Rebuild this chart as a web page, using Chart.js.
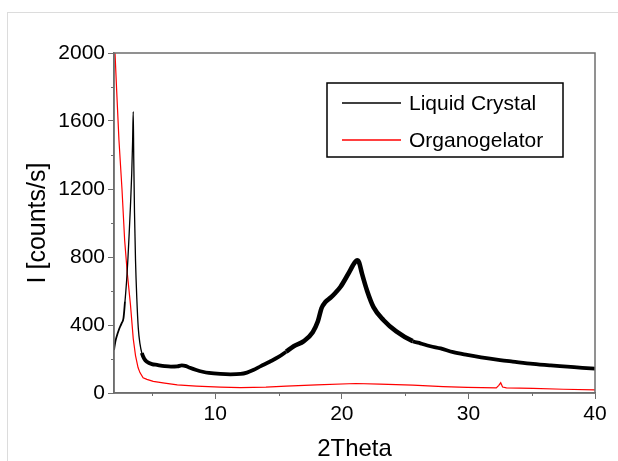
<!DOCTYPE html>
<html>
<head>
<meta charset="utf-8">
<script src="https://cdn.jsdelivr.net/npm/chart.js@4.4.1/dist/chart.umd.min.js"></script>
<style>
  html, body { margin: 0; padding: 0; background: #fff; overflow: hidden; }
  #frame { position: absolute; left: 7px; top: 12px; width: 700px; height: 500px; border-left: 1px solid #dcdcdc; border-top: 1px solid #dcdcdc; }
  #xrd { position: absolute; left: 0; top: 0; }
</style>
</head>
<body>
<div id="frame"></div>
<canvas id="xrd" width="618" height="461"></canvas>
<script>
// liquid crystal scan (2theta, counts/s)
const lcTheta = [
  2.0, 2.1, 2.2, 2.4, 2.6, 2.75, 2.87, 3.0, 3.1, 3.2,
  3.3, 3.4, 3.47, 3.52, 3.56, 3.62, 3.7, 3.8, 3.92, 4.05,
  4.2, 4.4, 4.6, 5.0, 5.4, 6.0, 6.5, 7.0, 7.35, 7.7,
  8.0, 8.5, 9.0, 9.5, 10.4, 11.2, 12.0, 12.5, 13.0, 13.6,
  14.3, 15.0, 15.6, 16.2, 17.0, 17.7, 18.1, 18.4, 18.7, 19.1,
  19.5, 19.9, 20.5, 21.0, 21.2, 21.35, 21.6, 22.0, 22.5, 23.3,
  24.3, 25.6, 26.2, 27.0, 27.8, 28.8, 29.9, 31.0, 32.5, 33.5,
  35.1, 36.5, 37.8, 39.0, 40.0
]
const lcCounts = [
  253, 300, 330, 375, 410, 440, 540, 665, 790, 940,
  1100, 1290, 1480, 1655, 1380, 1060, 780, 560, 380, 290,
  235, 200, 184, 170, 165, 158, 155, 156, 163, 158,
  148, 135, 125, 118, 112, 110, 112, 120, 135, 158,
  184, 212, 243, 275, 305, 358, 420, 500, 535, 560,
  590, 625, 700, 765, 780, 770, 700, 600, 505, 428,
  362, 305, 292, 275, 262, 240, 224, 210, 194, 185,
  171, 162, 155, 148, 143
]

// organogelator scan
const ogTheta = [
  2.0, 2.08, 2.21, 2.39, 2.63, 2.84, 3.05, 3.3, 3.52, 3.7,
  3.9, 4.05, 4.3, 4.6, 5.1, 6.0, 7.0, 8.5, 10.4, 12.0,
  14.0, 15.6, 18.0, 21.1, 23.0, 25.6, 28.0, 29.9, 32.2, 32.4,
  32.55, 32.7, 33.0, 35.1, 37.5, 40.0
]
const ogCounts = [
  2080, 2000, 1780, 1490, 1200, 900, 705, 520, 320, 220,
  150, 120, 90, 80, 68, 58, 48, 41, 35, 32,
  34, 40, 48, 56, 52, 46, 38, 33, 30, 45,
  60, 35, 30, 27, 22, 18
]

const seriesNames = ["Liquid Crystal", "Organogelator"]
const seriesColors = ["#000000", "#ff0000"]

const xMajorTicks = [10, 20, 30, 40]
const xMinorTicks = [5, 15, 25, 35]
const yMajorTicks = [0, 400, 800, 1200, 1600, 2000]
const yMinorTicks = [200, 600, 1000, 1400, 1800]

const axisGray = "#6e6e6e"
const fontFamily = "'Liberation Sans', Arial, sans-serif"

function toPoints(xs, ys) {
  return xs.map((x, i) => ({ x: x, y: ys[i] }))
}

// box round the plot + minor ticks
const frameBox = {
  id: "frameBox",
  afterDatasetsDraw(chart) {
    const { ctx, chartArea: a, scales } = chart
    ctx.save()
    ctx.strokeStyle = axisGray
    ctx.lineWidth = 1.5
    ctx.strokeRect(a.left, a.top, a.right - a.left, a.bottom - a.top)

    ctx.lineWidth = 1
    ctx.beginPath()
    xMinorTicks.forEach(v => {
      const px = Math.round(scales.x.getPixelForValue(v)) + 0.5
      ctx.moveTo(px, a.bottom)
      ctx.lineTo(px, a.bottom + 3)
    })
    yMinorTicks.forEach(v => {
      const py = Math.round(scales.y.getPixelForValue(v)) + 0.5
      ctx.moveTo(a.left - 3, py)
      ctx.lineTo(a.left, py)
    })
    ctx.stroke()
    ctx.restore()
  }
}

// legend drawn as a framed box inside the plot
const boxLegend = {
  id: "boxLegend",
  afterDraw(chart) {
    const { ctx, chartArea: a } = chart
    const left = a.left + 213
    const top = a.top + 30
    const w = 236
    const h = 74
    ctx.save()
    ctx.strokeStyle = "#000"
    ctx.lineWidth = 1.5
    ctx.strokeRect(left, top, w, h)
    ctx.font = "21px " + fontFamily
    ctx.textBaseline = "middle"
    chart.data.datasets.forEach((ds, i) => {
      const y = top + 20 + i * 37
      ctx.strokeStyle = ds.borderColor
      ctx.lineWidth = 1.3
      ctx.beginPath()
      ctx.moveTo(left + 15, y)
      ctx.lineTo(left + 74, y)
      ctx.stroke()
      ctx.fillStyle = "#000"
      ctx.fillText(ds.label, left + 82, y + 1)
    })
    ctx.restore()
  }
}

const ctx = document.getElementById("xrd").getContext("2d")

new Chart(ctx, {
  type: "line",
  data: {
    datasets: [
      {
        label: seriesNames[0],
        data: toPoints(lcTheta, lcCounts),
        borderColor: seriesColors[0],
        borderWidth: 3.6,
        borderJoinStyle: "round",
        pointRadius: 0,
        cubicInterpolationMode: "monotone",
        segment: {
          borderWidth: c => {
            const x = c.p0.parsed.x
            if (x < 2.8) return 1.8
            if (x < 4.2) return 1.3
            if (x > 15 && x < 25) return 4.6
            return 3.8
          }
        }
      },
      {
        label: seriesNames[1],
        data: toPoints(ogTheta, ogCounts),
        borderColor: seriesColors[1],
        borderWidth: 1.2,
        pointRadius: 0,
        tension: 0
      }
    ]
  },
  options: {
    responsive: false,
    animation: false,
    layout: { padding: { left: 0, top: 53, right: 23, bottom: 0 } },
    plugins: {
      legend: { display: false },
      tooltip: { enabled: false }
    },
    scales: {
      x: {
        type: "linear",
        min: 2,
        max: 40,
        afterBuildTicks: s => { s.ticks = xMajorTicks.map(v => ({ value: v })) },
        afterFit: s => { s.height = 68 },
        grid: { drawOnChartArea: false, tickLength: 6, color: axisGray },
        border: { color: axisGray, width: 1.5 },
        ticks: {
          color: "#000",
          font: { family: fontFamily, size: 21 },
          padding: 3,
          maxRotation: 0,
          autoSkip: false,
          callback: v => String(v)
        },
        title: {
          display: true,
          text: "2Theta",
          color: "#000",
          font: { family: fontFamily, size: 24, lineHeight: 1 },
          padding: 0
        }
      },
      y: {
        min: 0,
        max: 2000,
        afterBuildTicks: s => { s.ticks = yMajorTicks.map(v => ({ value: v })) },
        afterFit: s => { s.width = 114 },
        grid: { drawOnChartArea: false, tickLength: 6, color: axisGray },
        border: { color: axisGray, width: 1.5 },
        ticks: {
          color: "#000",
          font: { family: fontFamily, size: 21 },
          padding: 3,
          autoSkip: false,
          callback: v => String(v)
        },
        title: {
          display: true,
          text: "I [counts/s]",
          color: "#000",
          font: { family: fontFamily, size: 25, lineHeight: 1 },
          padding: { top: 26, bottom: 0 }
        }
      }
    }
  },
  plugins: [frameBox, boxLegend]
})
</script>
</body>
</html>
